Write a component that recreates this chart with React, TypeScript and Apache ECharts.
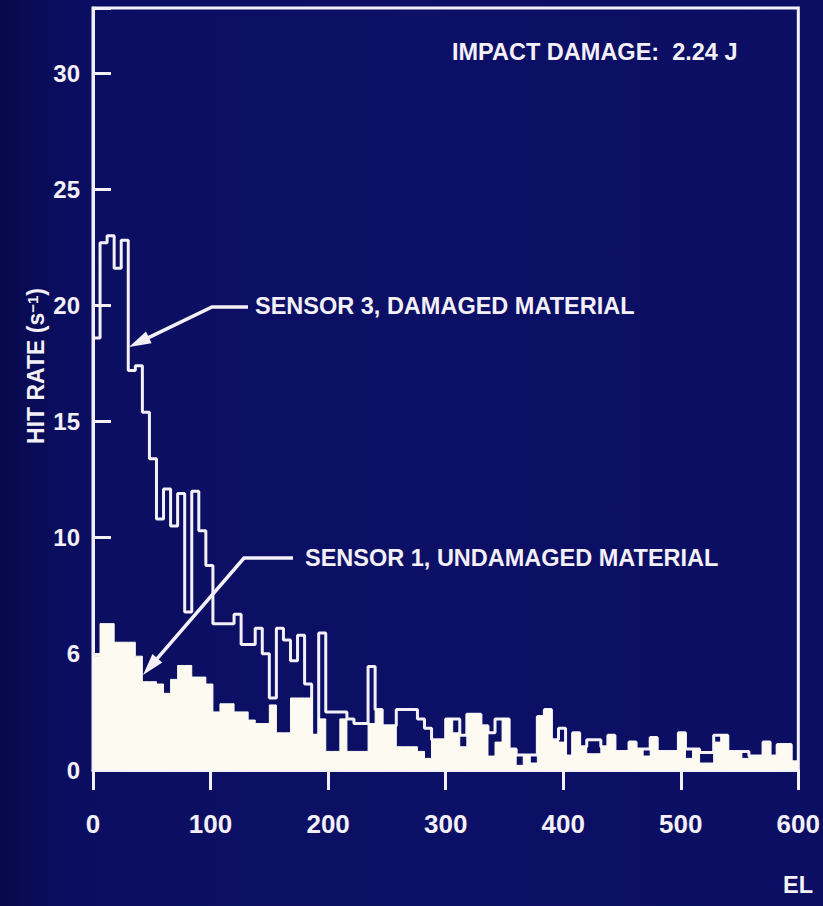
import { useEffect, useRef } from "react";
import * as echarts from "echarts";

// Histogram bin width in seconds (elapsed time)
const BIN_WIDTH = 6;

// Sensor 3, damaged material (outline histogram), hit rate s^-1 per 6 s bin
const SENSOR3 = [
  18.6, 22.7, 23.0, 21.6, 22.8, 17.2, 17.4, 15.4, 13.4, 10.8,
  12.1, 10.5, 11.9, 6.8, 12.0, 10.3, 8.8, 6.3, 6.3, 6.3,
  6.7, 5.4, 5.4, 6.1, 5.0, 3.1, 6.1, 5.6, 4.7, 5.8,
  3.7, 1.5, 5.9, 2.5, 2.5, 2.5, 2.2, 2.0, 2.0, 4.45,
  2.6, 1.9, 1.9, 2.6, 2.6, 2.6, 2.2, 1.8, 1.3, 1.3,
  2.2, 2.2, 1.5, 2.4, 2.4, 1.9, 1.6, 2.2, 2.2, 0.9,
  0.65, 0.65, 0.65, 2.3, 2.6, 1.3, 1.8, 0.6, 1.6, 1.0,
  1.3, 1.3, 1.0, 1.5, 0.8, 0.8, 1.2, 0.9, 0.9, 1.4,
  0.8, 0.8, 0.8, 1.6, 0.9, 0.9, 0.75, 0.75, 1.5, 1.5,
  0.8, 0.8, 0.8, 0.6, 0.6, 1.2, 0.6, 1.1, 1.1, 0.35,
];

// Sensor 1, undamaged material (filled histogram)
const SENSOR1 = [
  4.9, 6.3, 6.3, 5.5, 5.5, 5.5, 4.9, 3.8, 3.8, 3.7,
  3.3, 3.9, 4.5, 4.5, 4.0, 4.0, 3.7, 2.5, 2.85, 2.85,
  2.5, 2.5, 2.15, 2.0, 2.0, 2.8, 1.6, 1.6, 3.1, 3.1,
  3.1, 1.5, 2.2, 0.8, 0.8, 2.2, 0.8, 0.8, 0.8, 2.0,
  2.6, 1.9, 1.9, 1.0, 1.0, 1.0, 0.8, 0.5, 1.3, 1.3,
  2.2, 1.6, 1.0, 2.4, 2.4, 1.9, 0.6, 1.2, 2.2, 0.9,
  0.2, 0.65, 0.3, 2.3, 2.6, 1.3, 1.2, 0.6, 1.6, 1.0,
  0.7, 0.7, 1.0, 1.5, 0.8, 0.8, 1.2, 0.9, 0.6, 1.4,
  0.8, 0.8, 0.8, 1.6, 0.5, 0.9, 0.3, 0.3, 1.2, 1.5,
  0.8, 0.8, 0.5, 0.6, 0.6, 1.2, 0.6, 1.1, 1.1, 0.35,
];

// Y tick labels as printed on the original slide
const Y_TICK_LABELS: Record<number, string> = {
  0: "0",
  5: "6",
  10: "10",
  15: "15",
  20: "20",
  25: "25",
  30: "30",
};

const FG = "#f4f0f8";
const FILL = "#fdfbf1";
const BG = "#0c1066";
const FONT = "'Liberation Sans', Arial, Helvetica, sans-serif";

function stepPoints(values: number[]) {
  const pts = values.map((v, i) => [i * BIN_WIDTH, v]);
  pts.push([values.length * BIN_WIDTH, values[values.length - 1]]);
  return pts;
}

function arrow(points: number[][]) {
  const tip = points[points.length - 1];
  const prev = points[points.length - 2];
  const dx = tip[0] - prev[0];
  const dy = tip[1] - prev[1];
  const len = Math.hypot(dx, dy);
  const ux = dx / len;
  const uy = dy / len;
  const L = 22;
  const W = 6.5;
  const bx = tip[0] - ux * L;
  const by = tip[1] - uy * L;
  const nx = -uy;
  const ny = ux;
  const linePts = points.slice(0, -1).concat([[bx + ux * 2, by + uy * 2]]);
  return [
    {
      type: "polyline",
      shape: { points: linePts },
      style: { stroke: FG, lineWidth: 3.5, fill: null },
      z: 50,
    },
    {
      type: "polygon",
      shape: {
        points: [
          [tip[0], tip[1]],
          [bx + nx * W, by + ny * W],
          [bx - nx * W, by - ny * W],
        ],
      },
      style: { fill: FG },
      z: 50,
    },
  ];
}

export default function App() {
  const ref = useRef<HTMLDivElement>(null);

  useEffect(() => {
    if (!ref.current) return;
    const chart = echarts.init(ref.current, null, { renderer: "svg" });
    const textStyle = {
      fill: FG,
      fontFamily: FONT,
      fontWeight: "bold",
      fontSize: 23.5,
    };
    chart.setOption({
      animation: false,
      backgroundColor: {
        type: "linear",
        x: 0,
        y: 0,
        x2: 1,
        y2: 0,
        colorStops: [
          { offset: 0, color: "#07094c" },
          { offset: 0.08, color: "#0b0e60" },
          { offset: 0.5, color: BG },
          { offset: 1, color: "#0b0e62" },
        ],
      },
      grid: {
        left: 93,
        right: 24,
        top: 8,
        bottom: 136,
        show: true,
        borderColor: FG,
        borderWidth: 3,
        backgroundColor: "transparent",
      },
      xAxis: {
        type: "value",
        min: 0,
        max: 600,
        interval: 100,
        axisLine: { show: true, lineStyle: { color: FG, width: 3 } },
        axisTick: { show: true, length: 20, lineStyle: { color: FG, width: 3 } },
        axisLabel: {
          color: FG,
          fontSize: 26,
          fontWeight: "bold",
          fontFamily: FONT,
          margin: 41,
        },
        splitLine: { show: false },
      },
      yAxis: {
        type: "value",
        min: 0,
        max: 32.8,
        interval: 5,
        axisLine: { show: true, lineStyle: { color: FG, width: 3 } },
        axisTick: {
          show: true,
          inside: true,
          length: 18,
          lineStyle: { color: FG, width: 3 },
        },
        axisLabel: {
          color: FG,
          fontSize: 24,
          fontWeight: "bold",
          fontFamily: FONT,
          margin: 13,
          formatter: (v: number) => Y_TICK_LABELS[v] ?? "",
        },
        splitLine: { show: false },
      },
      series: [
        {
          name: "SENSOR 3, DAMAGED MATERIAL",
          type: "line",
          step: "end",
          data: stepPoints(SENSOR3),
          symbol: "none",
          lineStyle: { color: FG, width: 3 },
          z: 2,
        },
        {
          name: "SENSOR 1, UNDAMAGED MATERIAL",
          type: "line",
          step: "end",
          data: stepPoints(SENSOR1),
          symbol: "none",
          lineStyle: { color: FILL, width: 1 },
          areaStyle: { color: FILL, opacity: 1 },
          z: 3,
        },
      ],
      graphic: [
        {
          type: "text",
          x: 452,
          y: 52,
          style: {
            ...textStyle,
            text: "IMPACT DAMAGE:  2.24 J",
            textAlign: "left",
            textVerticalAlign: "middle",
          },
          z: 50,
        },
        {
          type: "text",
          x: 255,
          y: 306,
          style: {
            ...textStyle,
            text: "SENSOR 3, DAMAGED MATERIAL",
            textAlign: "left",
            textVerticalAlign: "middle",
          },
          z: 50,
        },
        {
          type: "text",
          x: 305,
          y: 558,
          style: {
            ...textStyle,
            text: "SENSOR 1, UNDAMAGED MATERIAL",
            textAlign: "left",
            textVerticalAlign: "middle",
          },
          z: 50,
        },
        {
          type: "text",
          x: 36,
          y: 366,
          rotation: Math.PI / 2,
          style: {
            text: "{a|HIT RATE (s}{b|−1}{a|)}",
            textAlign: "center",
            textVerticalAlign: "middle",
            rich: {
              a: { fill: FG, fontFamily: FONT, fontWeight: "bold", fontSize: 23 },
              b: {
                fill: FG,
                fontFamily: FONT,
                fontWeight: "bold",
                fontSize: 15,
                verticalAlign: "top",
              },
            },
          },
          z: 50,
        },
        {
          type: "text",
          x: 783,
          y: 885,
          style: {
            ...textStyle,
            text: "EL",
            textAlign: "left",
            textVerticalAlign: "middle",
          },
          z: 50,
        },
        ...arrow([
          [248, 307],
          [212, 307],
          [129, 347],
        ]),
        ...arrow([
          [293, 558],
          [244, 558],
          [143, 675],
        ]),
      ],
    });
    return () => chart.dispose();
  }, []);

  return (
    <div
      ref={ref}
      style={{
        position: "absolute",
        left: 0,
        top: 0,
        width: 823,
        height: 906,
        background: BG,
      }}
    />
  );
}
